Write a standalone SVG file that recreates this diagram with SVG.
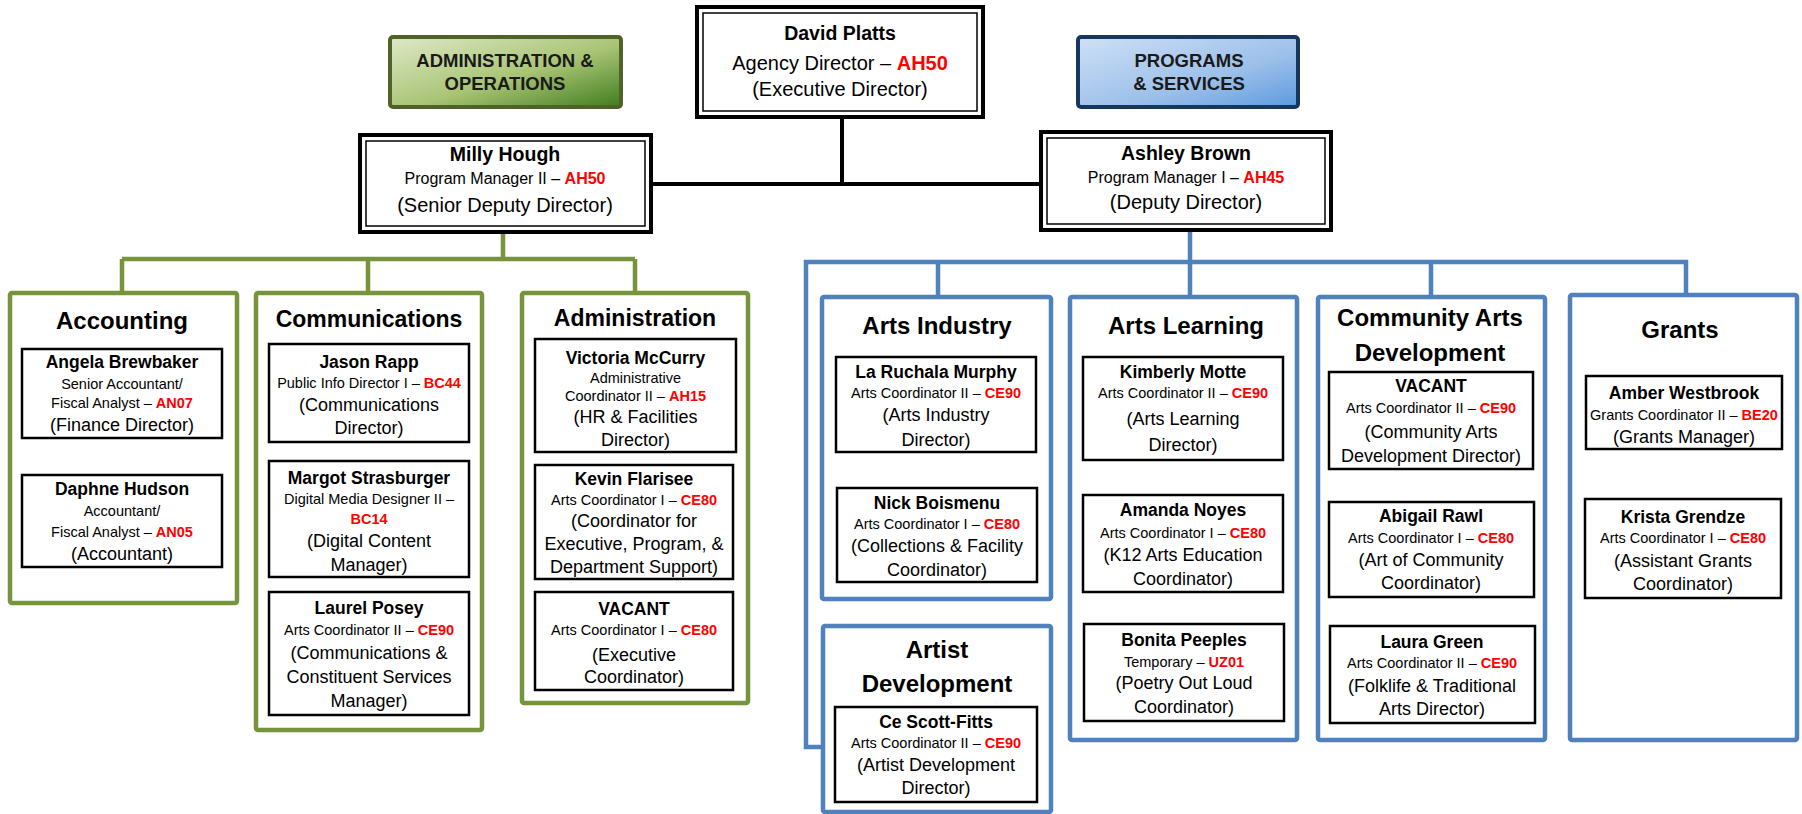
<svg xmlns="http://www.w3.org/2000/svg" width="1802" height="814" viewBox="0 0 1802 814">
<defs>
<linearGradient id="gGreen" x1="0" y1="0" x2="1" y2="1">
<stop offset="0" stop-color="#dfe9c8"/>
<stop offset="0.55" stop-color="#a9c474"/>
<stop offset="1" stop-color="#3f7d1e"/>
</linearGradient>
<linearGradient id="gBlue" x1="0" y1="0" x2="1" y2="1">
<stop offset="0" stop-color="#cfe0f5"/>
<stop offset="0.6" stop-color="#9cc0ea"/>
<stop offset="1" stop-color="#5b9be0"/>
</linearGradient>
</defs>
<style>
.t{font-family:"Liberation Sans",Arial,sans-serif;text-anchor:middle;fill:#000}
.title{font-size:24px;font-weight:bold}
.hd{font-size:18.5px;font-weight:bold;fill:#1a1a1a}
.nm{font-size:17.5px;font-weight:bold}
.sm{font-size:14.5px}
.rl{font-size:18px}
.tnm{font-size:19.5px;font-weight:bold}
.tsm{font-size:16px}
.trl{font-size:20px}
.code{fill:#ff0000;font-weight:bold}
.secg{fill:#fff;stroke:#77933c;stroke-width:4.5}
.secb{fill:#fff;stroke:#4f81bd;stroke-width:4.5}
.p{fill:#fff;stroke:#000;stroke-width:2.5}
.dbo{fill:#fff;stroke:#000;stroke-width:4}
.dbi{fill:none;stroke:#000;stroke-width:1.5}
.ck{fill:none;stroke:#000;stroke-width:4}
.cg{fill:none;stroke:#77933c;stroke-width:4.5}
.cb{fill:none;stroke:#4f81bd;stroke-width:4.5}
</style>

<g id="connectors">
<path class="ck" d="M842 117V184M651 184H1041"/>
<path class="cg" d="M503 232V259M122 259H635M122 259V293M368 259V293M635 259V293M122 438V475M369 442V461"/>
<path class="cb" d="M1190 230V262M823 747H806V262H1686V295M938 262V297M1190 262V297M1431 262V297M939 452V488M1189 460V495M1432 469V502"/>
</g>

<g id="hdr-admin">
<rect x="390" y="37" width="231" height="70" rx="3" fill="url(#gGreen)" stroke="#4f6228" stroke-width="4"/>
<text class="t hd" x="505" y="67">ADMINISTRATION &amp;</text>
<text class="t hd" x="505" y="90">OPERATIONS</text>
</g>

<g id="hdr-programs">
<rect x="1078" y="37" width="220" height="70" rx="3" fill="url(#gBlue)" stroke="#17375e" stroke-width="4"/>
<text class="t hd" x="1189" y="67">PROGRAMS</text>
<text class="t hd" x="1189" y="90">&amp; SERVICES</text>
</g>

<g id="david-platts">
<rect class="dbo" x="697" y="7" width="286" height="110"/>
<rect class="dbi" x="703" y="13" width="274" height="98"/>
<text class="t tnm" x="840" y="40">David Platts</text>
<text class="t trl" x="840" y="70">Agency Director – <tspan class="code">AH50</tspan></text>
<text class="t trl" x="840" y="96">(Executive Director)</text>
</g>

<g id="milly-hough">
<rect class="dbo" x="360" y="135" width="291" height="97"/>
<rect class="dbi" x="366" y="141" width="279" height="85"/>
<text class="t tnm" x="505" y="161">Milly Hough</text>
<text class="t tsm" x="505" y="184">Program Manager II – <tspan class="code">AH50</tspan></text>
<text class="t trl" x="505" y="212">(Senior Deputy Director)</text>
</g>

<g id="ashley-brown">
<rect class="dbo" x="1041" y="132" width="290" height="98"/>
<rect class="dbi" x="1047" y="138" width="278" height="86"/>
<text class="t tnm" x="1186" y="160">Ashley Brown</text>
<text class="t tsm" x="1186" y="183">Program Manager I – <tspan class="code">AH45</tspan></text>
<text class="t trl" x="1186" y="209">(Deputy Director)</text>
</g>

<g id="accounting">
<rect class="secg" x="10" y="293" width="227" height="310" rx="2"/>
<text class="t title" x="122" y="328.5">Accounting</text>
</g>
<g id="angela-brewbaker">
<rect class="p" x="22" y="349" width="200" height="89"/>
<text class="t nm" x="122" y="368">Angela Brewbaker</text>
<text class="t sm" x="122" y="389">Senior Accountant/</text>
<text class="t sm" x="122" y="408">Fiscal Analyst – <tspan class="code">AN07</tspan></text>
<text class="t rl" x="122" y="431">(Finance Director)</text>
</g>
<g id="daphne-hudson">
<rect class="p" x="22" y="475" width="200" height="92"/>
<text class="t nm" x="122" y="495">Daphne Hudson</text>
<text class="t sm" x="122" y="516">Accountant/</text>
<text class="t sm" x="122" y="537">Fiscal Analyst – <tspan class="code">AN05</tspan></text>
<text class="t rl" x="122" y="560">(Accountant)</text>
</g>

<g id="communications">
<rect class="secg" x="256" y="293" width="226" height="437" rx="2"/>
<text class="t title" style="font-size:23px" x="369" y="326.5">Communications</text>
</g>
<g id="jason-rapp">
<rect class="p" x="269" y="344" width="200" height="98"/>
<text class="t nm" x="369" y="368">Jason Rapp</text>
<text class="t sm" x="369" y="388">Public Info Director I – <tspan class="code">BC44</tspan></text>
<text class="t rl" x="369" y="411">(Communications</text>
<text class="t rl" x="369" y="434">Director)</text>
</g>
<g id="margot-strasburger">
<rect class="p" x="269" y="461" width="200" height="116"/>
<text class="t nm" x="369" y="484">Margot Strasburger</text>
<text class="t sm" x="369" y="504">Digital Media Designer II –</text>
<text class="t sm" x="369" y="524"><tspan class="code">BC14</tspan></text>
<text class="t rl" x="369" y="547">(Digital Content</text>
<text class="t rl" x="369" y="571">Manager)</text>
</g>
<g id="laurel-posey">
<rect class="p" x="269" y="592" width="200" height="123"/>
<text class="t nm" x="369" y="614">Laurel Posey</text>
<text class="t sm" x="369" y="635">Arts Coordinator II – <tspan class="code">CE90</tspan></text>
<text class="t rl" x="369" y="659">(Communications &amp;</text>
<text class="t rl" x="369" y="683">Constituent Services</text>
<text class="t rl" x="369" y="707">Manager)</text>
</g>

<g id="administration">
<rect class="secg" x="522" y="293" width="226" height="410" rx="2"/>
<text class="t title" style="font-size:23px" x="635" y="325.5">Administration</text>
</g>
<g id="victoria-mccurry">
<rect class="p" x="535" y="339" width="201" height="113"/>
<text class="t nm" x="635.5" y="364">Victoria McCurry</text>
<text class="t sm" x="635.5" y="383">Administrative</text>
<text class="t sm" x="635.5" y="401">Coordinator II – <tspan class="code">AH15</tspan></text>
<text class="t rl" x="635.5" y="423">(HR &amp; Facilities</text>
<text class="t rl" x="635.5" y="446">Director)</text>
</g>
<g id="kevin-flarisee">
<rect class="p" x="535" y="465" width="198" height="114"/>
<text class="t nm" x="634" y="485">Kevin Flarisee</text>
<text class="t sm" x="634" y="505">Arts Coordinator I – <tspan class="code">CE80</tspan></text>
<text class="t rl" x="634" y="527">(Coordinator for</text>
<text class="t rl" x="634" y="550">Executive, Program, &amp;</text>
<text class="t rl" x="634" y="573">Department Support)</text>
</g>
<g id="vacant-admin">
<rect class="p" x="535" y="592" width="198" height="98"/>
<text class="t nm" x="634" y="615">VACANT</text>
<text class="t sm" x="634" y="635">Arts Coordinator I – <tspan class="code">CE80</tspan></text>
<text class="t rl" x="634" y="661">(Executive</text>
<text class="t rl" x="634" y="683">Coordinator)</text>
</g>

<g id="arts-industry">
<rect class="secb" x="822" y="297" width="229" height="302" rx="2"/>
<text class="t title" x="937" y="333.5">Arts Industry</text>
</g>
<g id="la-ruchala-murphy">
<rect class="p" x="836" y="357" width="200" height="95"/>
<text class="t nm" x="936" y="378">La Ruchala Murphy</text>
<text class="t sm" x="936" y="398">Arts Coordinator II – <tspan class="code">CE90</tspan></text>
<text class="t rl" x="936" y="421">(Arts Industry</text>
<text class="t rl" x="936" y="446">Director)</text>
</g>
<g id="nick-boismenu">
<rect class="p" x="837" y="488" width="200" height="94"/>
<text class="t nm" x="937" y="509">Nick Boismenu</text>
<text class="t sm" x="937" y="529">Arts Coordinator I – <tspan class="code">CE80</tspan></text>
<text class="t rl" x="937" y="552">(Collections &amp; Facility</text>
<text class="t rl" x="937" y="576">Coordinator)</text>
</g>

<g id="artist-development">
<rect class="secb" x="823" y="626" width="228" height="186" rx="2"/>
<text class="t title" x="937" y="657.5">Artist</text>
<text class="t title" x="937" y="691.5">Development</text>
</g>
<g id="ce-scott-fitts">
<rect class="p" x="835" y="707" width="202" height="95"/>
<text class="t nm" x="936" y="728">Ce Scott-Fitts</text>
<text class="t sm" x="936" y="748">Arts Coordinator II – <tspan class="code">CE90</tspan></text>
<text class="t rl" x="936" y="771">(Artist Development</text>
<text class="t rl" x="936" y="794">Director)</text>
</g>

<g id="arts-learning">
<rect class="secb" x="1070" y="297" width="227" height="443" rx="2"/>
<text class="t title" x="1186" y="333.5">Arts Learning</text>
</g>
<g id="kimberly-motte">
<rect class="p" x="1083" y="357" width="200" height="103"/>
<text class="t nm" x="1183" y="378">Kimberly Motte</text>
<text class="t sm" x="1183" y="398">Arts Coordinator II – <tspan class="code">CE90</tspan></text>
<text class="t rl" x="1183" y="425">(Arts Learning</text>
<text class="t rl" x="1183" y="451">Director)</text>
</g>
<g id="amanda-noyes">
<rect class="p" x="1083" y="495" width="200" height="97"/>
<text class="t nm" x="1183" y="516">Amanda Noyes</text>
<text class="t sm" x="1183" y="538">Arts Coordinator I – <tspan class="code">CE80</tspan></text>
<text class="t rl" x="1183" y="561">(K12 Arts Education</text>
<text class="t rl" x="1183" y="585">Coordinator)</text>
</g>
<g id="bonita-peeples">
<rect class="p" x="1084" y="624" width="200" height="97"/>
<text class="t nm" x="1184" y="646">Bonita Peeples</text>
<text class="t sm" x="1184" y="667">Temporary – <tspan class="code">UZ01</tspan></text>
<text class="t rl" x="1184" y="689">(Poetry Out Loud</text>
<text class="t rl" x="1184" y="713">Coordinator)</text>
</g>

<g id="community-arts">
<rect class="secb" x="1318" y="297" width="227" height="443" rx="2"/>
<text class="t title" x="1430" y="325.5">Community Arts</text>
<text class="t title" x="1430" y="360.5">Development</text>
</g>
<g id="vacant-community">
<rect class="p" x="1329" y="372" width="204" height="97"/>
<text class="t nm" x="1431" y="392">VACANT</text>
<text class="t sm" x="1431" y="413">Arts Coordinator II – <tspan class="code">CE90</tspan></text>
<text class="t rl" x="1431" y="438">(Community Arts</text>
<text class="t rl" x="1431" y="462">Development Director)</text>
</g>
<g id="abigail-rawl">
<rect class="p" x="1329" y="502" width="205" height="95"/>
<text class="t nm" x="1431" y="522">Abigail Rawl</text>
<text class="t sm" x="1431" y="543">Arts Coordinator I – <tspan class="code">CE80</tspan></text>
<text class="t rl" x="1431" y="566">(Art of Community</text>
<text class="t rl" x="1431" y="589">Coordinator)</text>
</g>
<g id="laura-green">
<rect class="p" x="1330" y="626" width="205" height="97"/>
<text class="t nm" x="1432" y="648">Laura Green</text>
<text class="t sm" x="1432" y="668">Arts Coordinator II – <tspan class="code">CE90</tspan></text>
<text class="t rl" x="1432" y="692">(Folklife &amp; Traditional</text>
<text class="t rl" x="1432" y="715">Arts Director)</text>
</g>

<g id="grants">
<rect class="secb" x="1570" y="295" width="227" height="445" rx="2"/>
<text class="t title" x="1680" y="337.5">Grants</text>
</g>
<g id="amber-westbrook">
<rect class="p" x="1586" y="376" width="196" height="73"/>
<text class="t nm" x="1684" y="399">Amber Westbrook</text>
<text class="t sm" x="1684" y="420">Grants Coordinator II – <tspan class="code">BE20</tspan></text>
<text class="t rl" x="1684" y="443">(Grants Manager)</text>
</g>
<g id="krista-grendze">
<rect class="p" x="1585" y="499" width="196" height="99"/>
<text class="t nm" x="1683" y="523">Krista Grendze</text>
<text class="t sm" x="1683" y="543">Arts Coordinator I – <tspan class="code">CE80</tspan></text>
<text class="t rl" x="1683" y="567">(Assistant Grants</text>
<text class="t rl" x="1683" y="590">Coordinator)</text>
</g>
</svg>
